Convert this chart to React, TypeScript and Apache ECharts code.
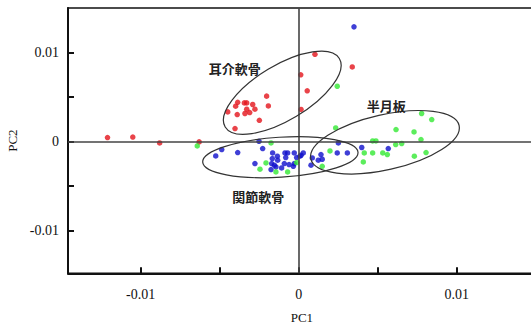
import React, { useEffect, useRef } from "react";
import * as echarts from "echarts";

// PCA scores [PC1, PC2]
const auricularCartilage: number[][] = [
  [-0.0121, 0.00045], [-0.0105, 0.0005], [-0.0088, -0.00016], [-0.0063, -0.00004],
  [0.00103, 0.0098], [0.00013, 0.0075], [0.00054, 0.0057], [0.00015, 0.0036],
  [-0.00203, 0.0051], [-0.00192, 0.004], [-0.00386, 0.0044], [-0.00344, 0.00434],
  [-0.00329, 0.00434], [-0.00291, 0.00416], [-0.00399, 0.00397], [-0.00449, 0.00333],
  [-0.00329, 0.00363], [-0.00277, 0.00363], [-0.00389, 0.00303], [-0.0034, 0.00315],
  [-0.0031, 0.00326], [-0.00249, 0.00239], [-0.00403, 0.00146], [0.00339, 0.00838],
];

const articularCartilage: number[][] = [
  [0.0035, 0.01288], [-0.00525, -0.00162], [-0.00487, -0.0009], [-0.00386, -0.00124],
  [-0.00251, 0.00003], [-0.00228, -0.00079], [-0.00165, -0.00128], [-0.00135, -0.00165],
  [-0.00087, -0.00128], [-0.0007, -0.00128], [-0.00028, -0.00128], [0.00029, -0.00128],
  [0.00008, -0.00165], [-0.00013, -0.0018], [-0.00082, -0.0018], [-0.00133, -0.0021],
  [-0.00167, -0.00191], [-0.00277, -0.00247], [-0.00171, -0.00247], [-0.00154, -0.00266],
  [-0.00091, -0.00247], [-0.00061, -0.00258], [-0.00028, -0.00247], [-0.00034, -0.00278],
  [-0.00175, -0.00315], [-0.00108, -0.00297], [-0.00144, -0.00285], [0.00015, -0.00154],
  [0.00086, -0.00184], [0.00141, -0.00146], [0.00149, -0.00199], [0.00124, -0.0021],
  [0.00078, -0.00266], [0.00251, -0.00016], [0.00244, -0.00128], [0.00308, -0.00128],
  [0.00399, -0.00067], [0.00567, -0.00079],
];

const meniscus: number[][] = [
  [-0.00642, -0.00049], [-0.00175, -0.00016], [-0.00207, -0.0024], [-0.00245, -0.00311],
  [-0.00013, -0.00236], [-0.00144, -0.00342], [-0.0007, -0.00342], [0.00244, 0.00621],
  [0.00234, 0.00153], [0.00198, -0.00106], [0.00149, -0.00278], [0.00415, -0.00128],
  [0.00468, 0.00007], [0.00489, 0.00007], [0.00468, -0.00128], [0.00532, -0.00128],
  [0.00409, -0.00229], [0.00778, 0.00315], [0.00842, 0.00247], [0.00616, 0.00135],
  [0.0073, 0.00108], [0.00774, 0.00022], [0.00614, -0.00034], [0.00652, -0.00022],
  [0.00561, -0.00146], [0.00732, -0.00165], [0.00806, -0.00124],
];

const xTickValues = [-0.01, -0.005, 0, 0.005, 0.01];
const xLabelValues = [-0.01, 0, 0.01];
const yTickValues = [-0.01, -0.005, 0, 0.005, 0.01];
const yLabelValues = [-0.01, 0, 0.01];

// group annotations: name, label anchor (data), ellipse centre (data)
const groupNames = ["耳介軟骨", "関節軟骨", "半月板"];
const labelAnchors: number[][] = [[-0.0057, 0.0082], [-0.0042, -0.0062], [0.0043, 0.004]];
const ellipseCenters: number[][] = [[-0.00104, 0.00548], [-0.00116, -0.00176], [0.00546, -0.00008]];

const serif = '"Liberation Serif", "Times New Roman", serif';

export default function App() {
  const ref = useRef<HTMLDivElement>(null);
  useEffect(() => {
    if (!ref.current) return;
    const chart = echarts.init(ref.current, undefined, { renderer: "svg" });
    const axisCommon = {
      axisLine: { show: true, onZero: false, lineStyle: { color: "#111", width: 2 } },
      splitLine: { show: false },
      nameTextStyle: { fontFamily: serif, fontSize: 13, color: "#111" },
    };
    chart.setOption({
      animation: false,
      backgroundColor: "#fff",
      grid: {
        left: 68, top: 8, right: -4.7, bottom: 53.7,
        outerBoundsMode: "none", containLabel: false,
        show: true, borderColor: "#111", borderWidth: 1.5, backgroundColor: "transparent",
      },
      xAxis: {
        type: "value", min: -0.0146, max: 0.015,
        name: "PC1", nameLocation: "middle", nameGap: 38,
        ...axisCommon,
        axisTick: { show: true, inside: true, length: 6, lineStyle: { color: "#111", width: 2 }, customValues: xTickValues },
        axisLabel: {
          customValues: xLabelValues, margin: 14, fontFamily: serif, fontSize: 14, color: "#111",
          formatter: (v: number) => (Math.abs(v) < 1e-9 ? "0" : String(+v.toFixed(3))),
        },
      },
      yAxis: {
        type: "value", min: -0.0148, max: 0.015,
        name: "PC2", nameLocation: "middle", nameGap: 46,
        ...axisCommon,
        axisTick: { show: true, inside: true, length: 6, lineStyle: { color: "#111", width: 2 }, customValues: yTickValues },
        axisLabel: {
          customValues: yLabelValues, margin: 9, fontFamily: serif, fontSize: 14, color: "#111",
          formatter: (v: number) => (Math.abs(v) < 1e-9 ? "0" : String(+v.toFixed(3))),
        },
      },
      series: [
        {
          type: "scatter", data: [], z: 1,
          markLine: {
            silent: true, symbol: "none", label: { show: false },
            lineStyle: { color: "#444", width: 1.6, type: "solid" },
            data: [{ xAxis: 0 }, { yAxis: 0 }],
          },
        },
        { type: "scatter", name: groupNames[0], data: auricularCartilage, symbolSize: 5.5, itemStyle: { color: "#e3141c" }, z: 3 },
        { type: "scatter", name: groupNames[1], data: articularCartilage, symbolSize: 5.5, itemStyle: { color: "#0f0fcc" }, z: 3 },
        { type: "scatter", name: groupNames[2], data: meniscus, symbolSize: 5.5, itemStyle: { color: "#33e833" }, z: 3 },
      ],
    });

    // ellipse shapes in pixels: [rx, ry, rotation in degrees]
    const ellipseShapes = [[66.6, 27.5, 31], [77.8, 20, 3.6], [76, 27.6, 12.7]];
    const graphics: any[] = [];
    ellipseCenters.forEach((c, i) => {
      const p = chart.convertToPixel({ gridIndex: 0 }, c) as number[];
      const [rx, ry, deg] = ellipseShapes[i];
      graphics.push({
        type: "ellipse", x: p[0], y: p[1], rotation: (deg * Math.PI) / 180, silent: true, z: 10,
        shape: { cx: 0, cy: 0, rx, ry },
        style: { fill: "none", stroke: "#333", lineWidth: 1.2 },
      });
    });
    labelAnchors.forEach((a, i) => {
      const p = chart.convertToPixel({ gridIndex: 0 }, a) as number[];
      graphics.push({
        type: "text", x: p[0], y: p[1], silent: true, z: 10,
        style: {
          text: groupNames[i], fill: "#222", font: 'bold 13px "Noto Sans CJK JP"',
          textAlign: "left", textVerticalAlign: "middle",
        },
      });
    });
    chart.setOption({ graphic: graphics });
    return () => chart.dispose();
  }, []);
  return <div ref={ref} style={{ position: "fixed", left: 0, top: 0, width: 531, height: 327 }} />;
}
